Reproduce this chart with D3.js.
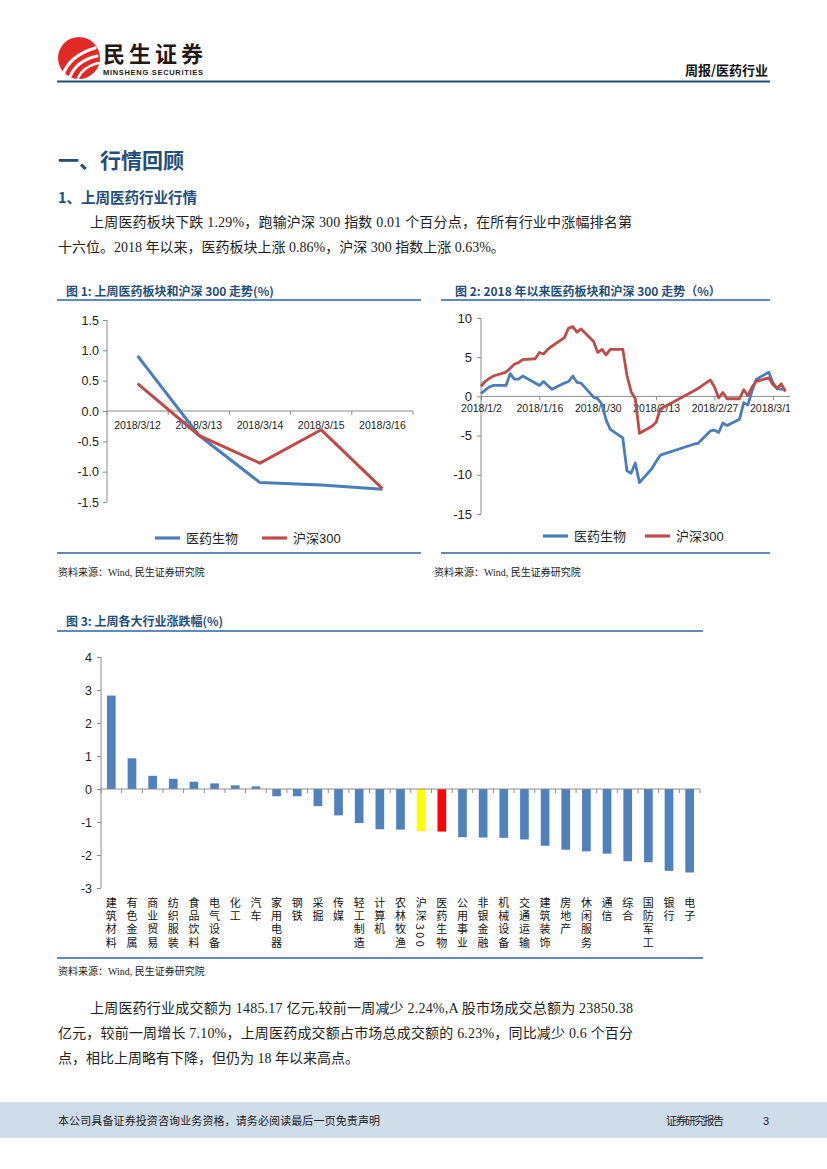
<!DOCTYPE html>
<html>
<head>
<meta charset="utf-8">
<script src="https://cdn.jsdelivr.net/npm/d3@7"></script>
<style>
body{margin:0;background:#fff;}
svg{display:block;}
</style>
</head>
<body>
<div id="page"></div>
<script>
// ---- 图1 上周走势 ----
var days1 = ["2018/3/12","2018/3/13","2018/3/14","2018/3/15","2018/3/16"];
var med1 = [0.91,-0.40,-1.18,-1.22,-1.29];
var hs1 = [0.45,-0.40,-0.86,-0.31,-1.28];
var yticks1 = [1.5,1.0,0.5,0.0,-0.5,-1.0,-1.5];

// ---- 图2 2018年以来走势 ----
var dates2 = ["2018-01-02","2018-01-03","2018-01-04","2018-01-05","2018-01-08","2018-01-09","2018-01-10","2018-01-11","2018-01-12",
	"2018-01-15","2018-01-16","2018-01-17","2018-01-18","2018-01-19","2018-01-22","2018-01-23","2018-01-24","2018-01-25","2018-01-26",
	"2018-01-29","2018-01-30","2018-01-31","2018-02-01","2018-02-02","2018-02-05","2018-02-06","2018-02-07","2018-02-08","2018-02-09",
	"2018-02-12","2018-02-13","2018-02-14","2018-02-22","2018-02-23","2018-02-26","2018-02-27","2018-02-28","2018-03-01","2018-03-02",
	"2018-03-05","2018-03-06","2018-03-07","2018-03-08","2018-03-09","2018-03-12","2018-03-13","2018-03-14","2018-03-15","2018-03-16"];
var med2 = [0.35,0.8,1.2,1.4,1.4,2.9,2.2,2.2,2.6,
	1.7,1.4,1.9,1.4,0.9,1.7,1.9,2.6,1.8,1.7,
	-0.1,-0.3,-1.0,-3.0,-4.2,-5.3,-9.5,-9.8,-8.5,-11.0,
	-9.2,-8.3,-7.5,-6.1,-6.0,-4.4,-4.3,-4.6,-3.4,-3.7,
	-2.9,-0.8,-1.1,0.7,2.17,3.1,1.76,0.97,0.93,0.86];
var hs2 = [1.3,1.9,2.3,2.6,3.1,3.6,4.1,4.3,4.7,
	4.8,5.6,5.4,6.0,6.4,7.5,8.7,8.9,8.2,8.6,
	7.0,5.6,6.0,5.3,6.0,6.0,2.7,0.6,-0.3,-4.7,
	-3.8,-3.3,-1.6,0.7,1.0,2.1,1.2,-0.2,0.5,-0.3,
	-0.3,0.85,0.1,1.2,1.91,2.37,1.5,1.04,1.6,0.63];
var xticks2 = ["2018-01-02","2018-01-16","2018-01-30","2018-02-13","2018-02-27","2018-03-13"];
var yticks2 = [10,5,0,-5,-10,-15];

// ---- 图3 上周各大行业涨跌幅 ----
var inds3 = ["建筑材料","有色金属","商业贸易","纺织服装","食品饮料","电气设备","化工","汽车","家用电器","钢铁",
	"采掘","传媒","轻工制造","计算机","农林牧渔","沪深300","医药生物","公用事业","非银金融","机械设备",
	"交通运输","建筑装饰","房地产","休闲服务","通信","综合","国防军工","银行","电子"];
var chg3 = [2.83,0.93,0.40,0.31,0.22,0.17,0.11,0.08,-0.22,-0.22,
	-0.52,-0.80,-1.03,-1.22,-1.23,-1.28,-1.29,-1.46,-1.47,-1.48,
	-1.53,-1.72,-1.84,-1.89,-1.96,-2.19,-2.22,-2.48,-2.53];
var yticks3 = [4,3,2,1,0,-1,-2,-3];

var BLUE = "#4a7ebb", RED = "#be4b48", NAVY = "#1f4e79", RULE = "#2a63a3", AXIS = "#8c8c8c";
var CJK = "'Noto Sans CJK SC', sans-serif";
var SERIF = "'Liberation Serif', 'Noto Sans CJK SC', serif";
var NUM = "'Liberation Sans', 'Noto Sans CJK SC', sans-serif";

var svg = d3.select("#page").append("svg").attr("width", 827).attr("height", 1169);

function txt(g, x, y, s, size, opts){
	opts = opts || {};
	var t = g.append("text").attr("x", x).attr("y", y).text(s)
		.style("font-family", opts.family || CJK)
		.style("font-size", size + "px")
		.style("font-weight", opts.weight || "normal")
		.style("fill", opts.fill || "#222")
		.attr("text-anchor", opts.anchor || "start");
	if(opts.len) t.attr("textLength", opts.len).attr("lengthAdjust", "spacing");
	return t;
}

function hline(g, x1, x2, y, color, w){
	g.append("line").attr("x1", x1).attr("x2", x2).attr("y1", y).attr("y2", y)
		.style("stroke", color).style("stroke-width", w);
}

function drawHeader(){
	var g = svg.append("g");
	// logo
	g.append("circle").attr("cx", 79).attr("cy", 58).attr("r", 21).style("fill", "#e12a26");
	[["M63,75 Q69,56 95,48", 3.2], ["M70,77 Q76,61 97,56", 3], ["M78,78 Q83,67 98,63", 2.6]].forEach(function(p){
		g.append("path").attr("d", p[0]).style("fill", "none").style("stroke", "#fff")
			.style("stroke-width", p[1]).style("stroke-linecap", "round");
	});
	txt(g, 103, 62, "民生证券", 22, {weight: "bold", fill: "#231815", len: 100});
	txt(g, 103, 75, "MINSHENG SECURITIES", 7.5, {weight: "bold", fill: "#231815", family: NUM, len: 100});
	txt(g, 768, 75, "周报/医药行业", 13, {weight: "bold", fill: "#111", anchor: "end"});
	hline(g, 57, 770, 81.5, NAVY, 2.2);
}

function drawText(){
	var g = svg.append("g");
	txt(g, 58, 168, "一、行情回顾", 21, {weight: "bold", fill: NAVY});
	txt(g, 58, 203, "1、上周医药行业行情", 14.5, {weight: "bold", fill: NAVY});
	txt(g, 90, 227, "上周医药板块下跌 1.29%，跑输沪深 300 指数 0.01 个百分点，在所有行业中涨幅排名第", 14, {family: SERIF, len: 542});
	txt(g, 58, 252, "十六位。2018 年以来，医药板块上涨 0.86%，沪深 300 指数上涨 0.63%。", 14, {family: SERIF});

	txt(g, 90, 1013, "上周医药行业成交额为 1485.17 亿元,较前一周减少 2.24%,A 股市场成交总额为 23850.38", 14, {family: SERIF, len: 543});
	txt(g, 58, 1038, "亿元，较前一周增长 7.10%，上周医药成交额占市场总成交额的 6.23%，同比减少 0.6 个百分", 14, {family: SERIF, len: 575});
	txt(g, 58, 1063, "点，相比上周略有下降，但仍为 18 年以来高点。", 14, {family: SERIF});
}

function legend(g, y, items){
	items.forEach(function(it){
		hline(g, it[0], it[0] + 25, y, it[2], 3.2);
		txt(g, it[0] + 31, y + 5, it[1], 13, {family: NUM});
	});
}

function styleAxis(a, size){
	a.selectAll("path.domain").remove();
	a.selectAll("line").style("stroke", AXIS);
	a.selectAll("text").style("font-family", NUM).style("font-size", size + "px").style("fill", "#222");
}

function drawFig1(){
	var g = svg.append("g");
	txt(g, 66, 296, "图 1: 上周医药板块和沪深 300 走势(%)", 12, {weight: "bold", fill: NAVY});
	hline(g, 57, 421, 300, RULE, 1.6);

	var x = d3.scaleBand().domain(days1).range([107, 413]);
	var y = d3.scaleLinear().domain([-1.5, 1.5]).range([502, 320]);

	var ya = g.append("g").attr("transform", "translate(107,0)")
		.call(d3.axisLeft(y).tickValues(yticks1).tickSize(4).tickPadding(4).tickFormat(function(d){ return d.toFixed(1); }));
	styleAxis(ya, 12.5);
	g.append("line").attr("x1", 107).attr("x2", 107).attr("y1", 320).attr("y2", 502).style("stroke", AXIS);

	var xa = g.append("g").attr("transform", "translate(0," + y(0) + ")")
		.call(d3.axisBottom(x).tickSize(0).tickPadding(11));
	styleAxis(xa, 10.5);
	hline(g, 107, 413, y(0), AXIS, 1);
	d3.range(days1.length + 1).forEach(function(i){
		var px = 107 + i * x.step();
		g.append("line").attr("x1", px).attr("x2", px).attr("y1", y(0)).attr("y2", y(0) + 4).style("stroke", AXIS);
	});

	var line = d3.line().x(function(d, i){ return x(days1[i]) + x.bandwidth() / 2; }).y(function(d){ return y(d); });
	[[med1, BLUE], [hs1, RED]].forEach(function(s){
		g.append("path").attr("d", line(s[0])).style("fill", "none").style("stroke", s[1])
			.style("stroke-width", 3).style("stroke-linejoin", "round");
	});

	legend(g, 538, [[155, "医药生物", BLUE], [262, "沪深300", RED]]);
	hline(g, 57, 421, 553, RULE, 1.6);
	txt(g, 58, 576, "资料来源：Wind, 民生证券研究院", 10, {family: SERIF});
}

function drawFig2(){
	var g = svg.append("g");
	txt(g, 455, 296, "图 2: 2018 年以来医药板块和沪深 300 走势（%）", 12, {weight: "bold", fill: NAVY});
	hline(g, 441, 770, 300, RULE, 1.6);

	svg.append("clipPath").attr("id", "clip2").append("rect").attr("x", 430).attr("y", 305).attr("width", 360).attr("height", 220);
	var c = g.append("g").attr("clip-path", "url(#clip2)");

	var parse = d3.timeParse("%Y-%m-%d");
	var x = d3.scaleTime().domain([parse("2018-01-02"), parse("2018-03-16")]).range([481, 785.4]);
	var y = d3.scaleLinear().domain([-15, 10]).range([514, 318]);

	var ya = c.append("g").attr("transform", "translate(481,0)")
		.call(d3.axisLeft(y).tickValues(yticks2).tickSize(4).tickPadding(5).tickFormat(function(d){ return String(d); }));
	styleAxis(ya, 13);
	c.append("line").attr("x1", 481).attr("x2", 481).attr("y1", 318).attr("y2", 514).style("stroke", AXIS);

	var xa = c.append("g").attr("transform", "translate(0," + y(0) + ")")
		.call(d3.axisBottom(x).tickValues(xticks2.map(parse)).tickSize(4).tickPadding(4).tickFormat(d3.timeFormat("%Y/%-m/%-d")));
	styleAxis(xa, 10.5);
	hline(c, 481, 792, y(0), AXIS, 1);

	var pts = dates2.map(parse);
	var line = d3.line().x(function(d, i){ return x(pts[i]); }).y(function(d){ return y(d); });
	[[med2, BLUE], [hs2, RED]].forEach(function(s){
		c.append("path").attr("d", line(s[0])).style("fill", "none").style("stroke", s[1])
			.style("stroke-width", 2.8).style("stroke-linejoin", "round");
	});

	legend(g, 536, [[543, "医药生物", BLUE], [645, "沪深300", RED]]);
	hline(g, 441, 770, 553, RULE, 1.6);
	txt(g, 434, 576, "资料来源：Wind, 民生证券研究院", 10, {family: SERIF});
}

function drawFig3(){
	var g = svg.append("g");
	txt(g, 66, 626, "图 3: 上周各大行业涨跌幅(%)", 12, {weight: "bold", fill: NAVY});
	hline(g, 57, 703, 631, RULE, 1.6);

	var x = d3.scaleBand().domain(inds3).range([101, 700]);
	var y = d3.scaleLinear().domain([-3, 4]).range([888, 657]);

	var ya = g.append("g").attr("transform", "translate(101,0)")
		.call(d3.axisLeft(y).tickValues(yticks3).tickSize(4).tickPadding(5).tickFormat(function(d){ return String(d); }));
	styleAxis(ya, 12.5);
	g.append("line").attr("x1", 101).attr("x2", 101).attr("y1", 657).attr("y2", 888).style("stroke", AXIS);

	var bw = x.bandwidth() * 0.42;
	g.selectAll("rect.bar").data(chg3).enter().append("rect")
		.attr("x", function(d, i){ return x(inds3[i]) + (x.bandwidth() - bw) / 2; })
		.attr("y", function(d){ return y(Math.max(0, d)); })
		.attr("width", bw)
		.attr("height", function(d){ return Math.abs(y(d) - y(0)); })
		.style("fill", function(d, i){
			if(inds3[i] == "沪深300") return "#ffff00";
			if(inds3[i] == "医药生物") return "#ff0000";
			return "#4f81bd";
		});

	hline(g, 101, 700, y(0), AXIS, 1);
	d3.range(inds3.length + 1).forEach(function(i){
		var px = 101 + i * x.step();
		g.append("line").attr("x1", px).attr("x2", px).attr("y1", y(0)).attr("y2", y(0) + 4).style("stroke", AXIS);
	});

	// 竖排标签：汉字直立，数字侧转
	g.selectAll("text.cat").data(inds3).enter().append("text")
		.attr("class", "cat")
		.attr("x", function(d){ return x(d) + x.bandwidth() / 2; })
		.attr("y", 897)
		.text(function(d){ return d; })
		.style("writing-mode", "vertical-rl")
		.style("text-orientation", "mixed")
		.style("letter-spacing", "2.4px")
		.style("font-family", CJK)
		.style("font-size", "11px")
		.style("fill", "#111");

	hline(g, 57, 703, 958, RULE, 1.6);
	txt(g, 58, 975, "资料来源：Wind, 民生证券研究院", 10, {family: SERIF});
}

function drawFooter(){
	var g = svg.append("g");
	g.append("rect").attr("x", 0).attr("y", 1102).attr("width", 827).attr("height", 36).style("fill", "#cfdcea");
	txt(g, 58, 1125, "本公司具备证券投资咨询业务资格，请务必阅读最后一页免责声明", 11, {len: 322});
	txt(g, 666, 1125, "证券研究报告", 11, {len: 58});
	txt(g, 763, 1125, "3", 11, {family: NUM});
}

drawHeader();
drawText();
drawFig1();
drawFig2();
drawFig3();
drawFooter();
</script>
</body>
</html>
